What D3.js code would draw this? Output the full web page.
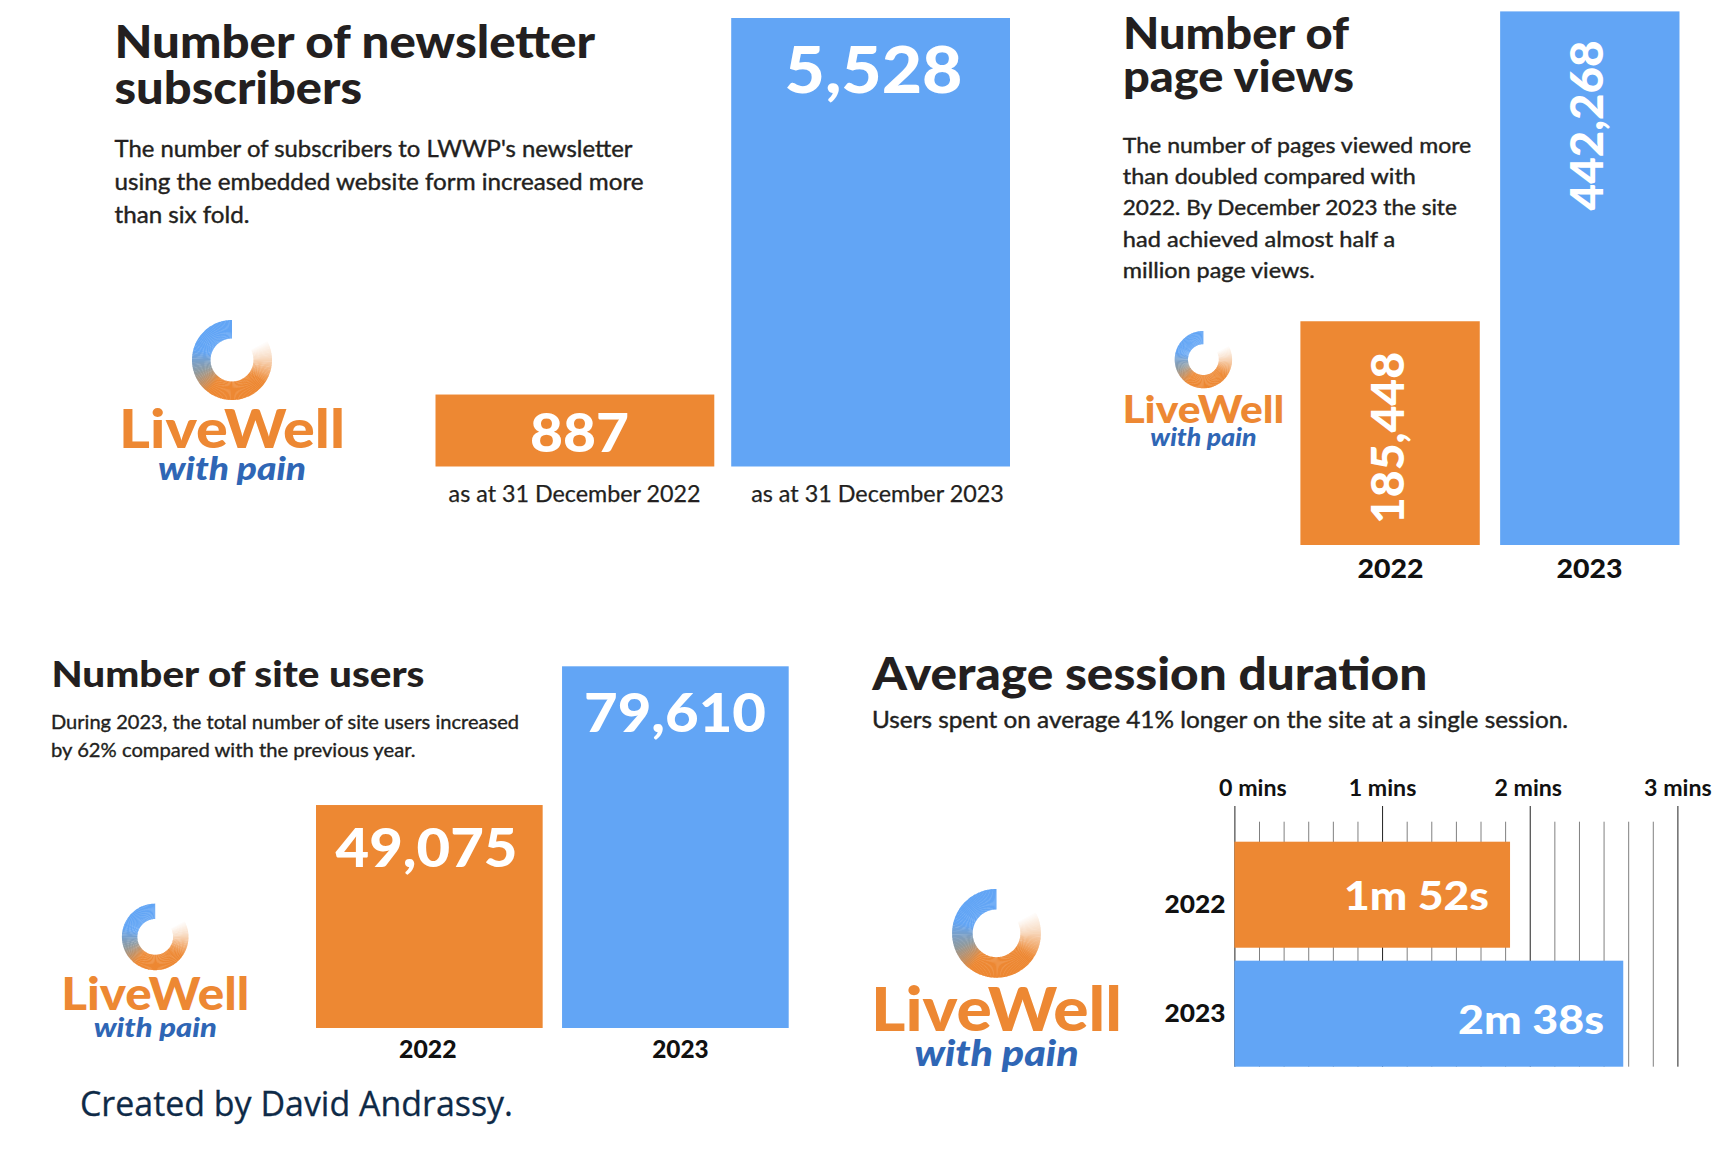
<!DOCTYPE html>
<html>
<head>
<meta charset="utf-8">
<script src="https://cdnjs.cloudflare.com/ajax/libs/d3/7.8.5/d3.min.js"></script>
<style>
  html, body { margin: 0; background: #fff; }
  svg { display: block; }
  text { font-family: Lato, sans-serif; }
</style>
</head>
<body>
<svg id="chart" width="1726" height="1166"></svg>
<script>
// Values
const years = ['2022', '2023'];
const subscribers = [887, 5528];
const subscriberLabels = ['as at 31 December 2022', 'as at 31 December 2023'];
const pageViews = [185448, 442268];
const siteUsers = [49075, 79610];
const sessionSeconds = [112, 158];
const axisMinutes = [0, 1, 2, 3];
const minorSeconds = d3.range(10, 180, 10).filter(d => d % 60 !== 0);

// Text
const subscriberTitle = ['Number of newsletter', 'subscribers'];
const subscriberBody = ["The number of subscribers to LWWP's newsletter", 'using the embedded website form increased more', 'than six fold.'];
const viewsTitle = ['Number of', 'page views'];
const viewsBody = ['The number of pages viewed more', 'than doubled compared with', '2022. By December 2023 the site', 'had achieved almost half a', 'million page views.'];
const usersTitle = 'Number of site users';
const usersBody = ['During 2023, the total number of site users increased', 'by 62% compared with the previous year.'];
const sessionTitle = 'Average session duration';
const sessionBody = 'Users spent on average 41% longer on the site at a single session.';
const credit = 'Created by David Andrassy.';

const ORANGE = '#ED8833', BLUE = '#62A5F5', INK = '#231F20';
const svg = d3.select('#chart');
const fmt = d3.format(',');

// text squeezed to the width measured in the reference
function label(str, x, y, size, width, o = {}) {
  const t = svg.append('text')
    .attr('x', x).attr('y', y)
    .attr('font-size', size)
    .attr('font-weight', o.weight || 900)
    .attr('fill', o.fill || INK)
    .attr('text-anchor', o.anchor || 'start')
    .text(str);
  if (width) t.attr('textLength', width).attr('lengthAdjust', 'spacingAndGlyphs');
  if (o.rotate) t.attr('transform', `rotate(-90,${x},${y})`);
  if (o.family) t.style('font-family', o.family);
  if (o.stroke) t.attr('stroke', o.fill || INK).attr('stroke-width', o.stroke);
  return t;
}

function bars(xBand, y, values, base) {
  svg.append('g').selectAll('rect')
    .data(values)
    .enter().append('rect')
      .attr('x', (d, i) => xBand(years[i]))
      .attr('y', d => y(d))
      .attr('width', xBand.bandwidth())
      .attr('height', d => base - y(d))
      .attr('fill', (d, i) => i ? BLUE : ORANGE);
}

function logo(cx, cy, s) {
  const g = svg.append('g').attr('transform', `translate(${cx},${cy}) scale(${s})`);
  // ring colour by angle, clockwise from 12 o'clock
  const ringColor = d3.scaleLinear()
    .domain([60, 85, 125, 215, 250, 285, 360])
    .range(['#ffffff', '#f8dcc4', ORANGE, ORANGE, '#8f9a9f', BLUE, BLUE])
    .clamp(true);
  const arc = d3.arc().innerRadius(21.5).outerRadius(40);
  const rad = d3.scaleLinear().domain([0, 360]).range([0, 2 * Math.PI]);
  g.selectAll('path')
    .data(d3.range(60, 360, 2))
    .enter().append('path')
      .attr('d', d => arc({startAngle: rad(d), endAngle: rad(Math.min(d + 2.6, 360))}))
      .attr('fill', d => ringColor(d));
  g.append('text').attr('x', 0).attr('y', 88)
    .attr('text-anchor', 'middle').attr('font-size', 54).attr('font-weight', 900)
    .attr('fill', ORANGE).attr('textLength', 226).attr('lengthAdjust', 'spacingAndGlyphs')
    .text('LiveWell');
  g.append('text').attr('x', 0).attr('y', 120)
    .attr('text-anchor', 'middle').attr('font-size', 33).attr('font-weight', 900)
    .attr('font-style', 'italic')
    .attr('fill', '#2F66B5').attr('textLength', 148).attr('lengthAdjust', 'spacingAndGlyphs')
    .text('with pain');
}

// Panel 1: newsletter subscribers
{
  const x = d3.scaleBand().domain(years).range([435.5, 1010]).paddingInner(0.0572);
  const y = d3.scaleLinear().domain([0, 5528]).range([466.5, 18]);
  bars(x, y, subscribers, 466.5);
  label(subscriberTitle[0], 114.5, 58.2, 45, 480.5);
  label(subscriberTitle[1], 114.5, 103.5, 45, 247.5);
  [157, 190, 222.5].forEach((by, i) => label(subscriberBody[i], 114.5, by, 23, [518, 529, 135][i], {weight: 400, stroke: 0.4}));
  label(fmt(subscribers[1]), 873.5, 92.5, 65, 178, {anchor: 'middle', fill: '#fff'});
  label(fmt(subscribers[0]), 579.5, 451.5, 53, 99, {anchor: 'middle', fill: '#fff'});
  label(subscriberLabels[0], 574.6, 501.5, 23, 252, {anchor: 'middle', weight: 400, stroke: 0.25});
  label(subscriberLabels[1], 877.5, 501.5, 23, 252.7, {anchor: 'middle', weight: 400, stroke: 0.25});
  logo(232, 360, 1);
}

// Panel 2: page views
{
  const x = d3.scaleBand().domain(years).range([1300.4, 1679.5]).paddingInner(0.102);
  const y = d3.scaleLinear().domain([0, 442268]).range([545, 11.4]);
  bars(x, y, pageViews, 545);
  label(viewsTitle[0], 1123, 48.8, 43, 226);
  label(viewsTitle[1], 1123, 92, 43, 231);
  [152.8, 184.2, 215.2, 246.5, 277.5].forEach((by, i) => label(viewsBody[i], 1122.8, by, 21.5, [348.5, 293, 334, 272.5, 192][i], {weight: 400, stroke: 0.4}));
  label(fmt(pageViews[0]), 1404, 524, 46, 172, {fill: '#fff', rotate: true});
  label(fmt(pageViews[1]), 1603.5, 210.4, 46, 170, {fill: '#fff', rotate: true});
  label(years[0], 1390.4, 578, 27, 66, {anchor: 'middle', fill: '#111'});
  label(years[1], 1589.4, 578, 27, 66, {anchor: 'middle', fill: '#111'});
  logo(1203.4, 359.6, 0.717);
}

// Panel 3: site users
{
  const x = d3.scaleBand().domain(years).range([316, 788.7]).paddingInner(0.0788);
  const y = d3.scaleLinear().domain([0, 79610]).range([1028, 666.3]);
  bars(x, y, siteUsers, 1028);
  label(usersTitle, 51.5, 687.2, 36, 373);
  label(usersBody[0], 51, 729.2, 19.5, 468, {weight: 400, stroke: 0.35});
  label(usersBody[1], 51, 756.6, 19.5, 364.5, {weight: 400, stroke: 0.35});
  label(fmt(siteUsers[0]), 426.5, 866.5, 53, 182, {anchor: 'middle', fill: '#fff'});
  label(fmt(siteUsers[1]), 675, 732.2, 53, 182, {anchor: 'middle', fill: '#fff'});
  label(years[0], 427.8, 1057.8, 24, 57.5, {anchor: 'middle', fill: '#111'});
  label(years[1], 680.5, 1057.8, 24, 56.5, {anchor: 'middle', fill: '#111'});
  logo(155.2, 936.9, 0.832);
  label(credit, 80, 1116, 35, 433, {weight: 400, fill: '#0E2A47', stroke: 0.3, family: '"Open Sans", sans-serif'});
}

// Panel 4: session duration
{
  const x = d3.scaleLinear().domain([0, 180]).range([1234.4, 1677.4]);
  const y = d3.scaleBand().domain(years).range([841.7, 1066.7]).paddingInner(0.109);

  const minor = svg.append('g')
    .attr('transform', 'translate(0,821.7)')
    .call(d3.axisBottom(x).tickValues(minorSeconds).tickSize(245).tickFormat(''));
  minor.select('.domain').remove();
  minor.selectAll('line').attr('stroke', '#808080');

  const major = svg.append('g')
    .attr('transform', 'translate(0,806)')
    .call(d3.axisTop(x)
      .tickValues(axisMinutes.map(d => d * 60))
      .tickSize(-260.7)
      .tickPadding(10.3)
      .tickFormat(d => `${d / 60} mins`));
  major.select('.domain').remove();
  major.selectAll('line').attr('stroke', '#222');
  major.selectAll('text')
    .attr('font-size', 22).attr('font-weight', 700).attr('fill', '#111')
    .attr('textLength', 67.6).attr('lengthAdjust', 'spacingAndGlyphs')
    .attr('dx', d => d === 0 ? 18 : d === 120 ? -2 : 0);

  svg.append('g').selectAll('rect')
    .data(sessionSeconds)
    .enter().append('rect')
      .attr('x', x(0))
      .attr('y', (d, i) => y(years[i]))
      .attr('width', d => x(d) - x(0))
      .attr('height', y.bandwidth())
      .attr('fill', (d, i) => i ? BLUE : ORANGE);

  const dur = s => `${Math.floor(s / 60)}m ${s % 60}s`;
  label(dur(sessionSeconds[0]), 1344, 909.5, 39, 145, {fill: '#fff'});
  label(dur(sessionSeconds[1]), 1458, 1033.5, 39, 146, {fill: '#fff'});
  label(years[0], 1225.4, 912.7, 25, 61, {anchor: 'end', fill: '#111'});
  label(years[1], 1225.4, 1021.7, 25, 61, {anchor: 'end', fill: '#111'});
  label(sessionTitle, 872.3, 690, 45, 555);
  label(sessionBody, 872, 728, 23, 696, {weight: 400, stroke: 0.4});
  logo(996.5, 933.3, 1.11);
}
</script>
</body>
</html>
